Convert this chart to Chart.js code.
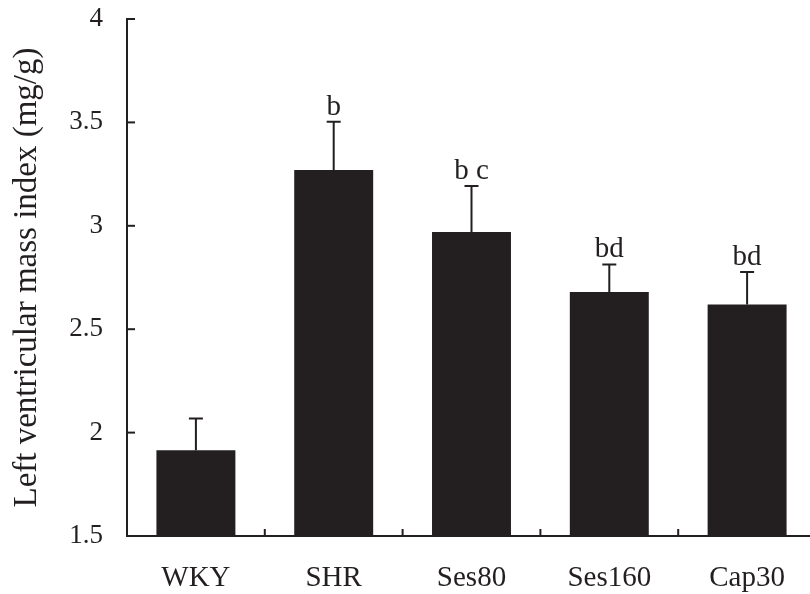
<!DOCTYPE html>
<html>
<head>
<meta charset="utf-8">
<script src="https://cdn.jsdelivr.net/npm/chart.js@4"></script>
<style>
  html, body { margin: 0; padding: 0; background: #fff; overflow: hidden; }
  #wrap { width: 816px; height: 594px; }
</style>
</head>
<body>
<div id="wrap"><canvas id="barChart"></canvas></div>
<script>
const groups = ["WKY", "SHR", "Ses80", "Ses160", "Cap30"];
const lvmi = [1.915, 3.27, 2.97, 2.68, 2.62];
const lvmiSd = [0.153, 0.233, 0.222, 0.133, 0.157];
const marks = ["", "b", "b c", "bd", "bd"];

const serif = "'Liberation Serif', 'Times New Roman', serif";
const ink = "#231f20";

// error bars, inward tick marks and significance letters
const extras = {
  id: "extras",
  afterDatasetsDraw(chart) {
    const { ctx, scales: { x, y } } = chart;
    const bars = chart.getDatasetMeta(0).data;
    ctx.save();
    ctx.strokeStyle = ink;
    ctx.fillStyle = ink;
    ctx.lineWidth = 2;

    bars.forEach((bar, i) => {
      const top = y.getPixelForValue(lvmi[i] + lvmiSd[i]);
      ctx.beginPath();
      ctx.moveTo(bar.x, bar.y);
      ctx.lineTo(bar.x, top);
      ctx.moveTo(bar.x - 7, top);
      ctx.lineTo(bar.x + 7, top);
      ctx.stroke();
      if (marks[i]) {
        ctx.font = "29px " + serif;
        ctx.textAlign = "center";
        ctx.textBaseline = "alphabetic";
        ctx.fillText(marks[i], bar.x, top - 7);
      }
    });

    // y ticks pointing into the plot
    y.ticks.forEach((t) => {
      const py = y.getPixelForValue(t.value);
      ctx.beginPath();
      ctx.moveTo(x.left, py);
      ctx.lineTo(x.left + 8, py);
      ctx.stroke();
    });

    // x ticks between categories
    for (let i = 1; i < groups.length; i++) {
      const px = (x.getPixelForValue(i - 1) + x.getPixelForValue(i)) / 2;
      ctx.beginPath();
      ctx.moveTo(px, y.bottom);
      ctx.lineTo(px, y.bottom - 7);
      ctx.stroke();
    }
    ctx.restore();
  }
};

new Chart(document.getElementById("barChart"), {
  type: "bar",
  data: {
    labels: groups,
    datasets: [{
      data: lvmi,
      backgroundColor: ink,
      borderWidth: 0,
      barPercentage: 0.573,
      categoryPercentage: 1
    }]
  },
  options: {
    responsive: true,
    maintainAspectRatio: false,
    animation: false,
    layout: { padding: 0 },
    plugins: {
      legend: { display: false },
      tooltip: { enabled: false }
    },
    scales: {
      x: {
        grid: { display: false, drawTicks: false },
        border: { display: true, color: ink, width: 2 },
        ticks: { color: ink, padding: 25, font: { family: serif, size: 29 }, maxRotation: 0 },
        afterFit(scale) { scale.height = 58; }
      },
      y: {
        min: 1.5,
        max: 4,
        grid: { display: false, drawTicks: false },
        border: { display: true, color: ink, width: 2 },
        ticks: {
          stepSize: 0.5,
          color: ink,
          padding: 24,
          font: { family: serif, size: 27 },
          callback: (v) => String(v)
        },
        title: {
          display: true,
          text: "Left ventricular mass index (mg/g)",
          color: ink,
          font: { family: serif, size: 33 },
          padding: { top: 8, bottom: 0 }
        },
        afterFit(scale) {
          scale.width = 127;
          scale.paddingTop = 19;
          scale.paddingBottom = 0;
        }
      }
    }
  },
  plugins: [extras]
});
</script>
</body>
</html>
